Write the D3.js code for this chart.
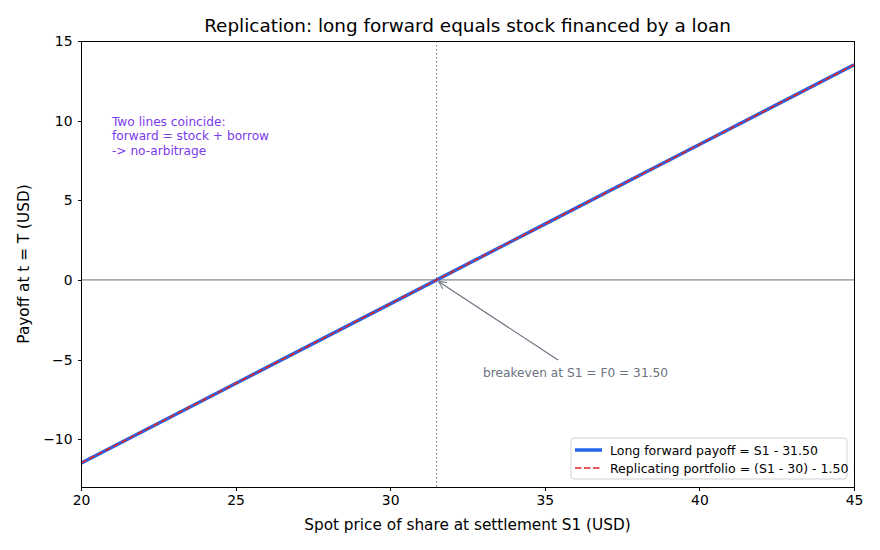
<!DOCTYPE html>
<html>
<head>
<meta charset="utf-8">
<style>
body{ margin:0; background:#fff; }
text{ font-family: "DejaVu Sans", sans-serif; }
.axis path, .axis line{ stroke:#000; stroke-width:1px; shape-rendering:crispEdges; }
.axis text{ font-size:13.9px; fill:#000; }
</style>
</head>
<body>
<script src="https://cdn.jsdelivr.net/npm/d3@7/dist/d3.min.js"></script>
<script>
  var WIDTH = 880;
  var HEIGHT = 550;

  var spotPrices = [20, 25, 30, 35, 40, 45];
  var forwardPayoff = [-11.5, -6.5, -1.5, 3.5, 8.5, 13.5];
  var replicatingPayoff = [-11.5, -6.5, -1.5, 3.5, 8.5, 13.5];
  var xTicks = [20, 25, 30, 35, 40, 45];
  var yTicks = [-10, -5, 0, 5, 10, 15];
  var breakeven = 31.5;
  var noteLines = ["Two lines coincide:", "forward = stock + borrow", "-> no-arbitrage"];
  var legendLabels = ["Long forward payoff = S1 - 31.50", "Replicating portfolio = (S1 - 30) - 1.50"];

  var margin = {left: 81, right: 854, top: 41, bottom: 487};

  var xScale = d3.scaleLinear().domain([20, 45]).range([margin.left, margin.right]);
  var yScale = d3.scaleLinear().domain([-13, 15]).range([margin.bottom, margin.top]);

  var svg = d3.select("body").append("svg")
    .attr("width", WIDTH)
    .attr("height", HEIGHT);

  // reference lines
  svg.append("line")
    .attr("x1", margin.left).attr("x2", margin.right)
    .attr("y1", yScale(0)).attr("y2", yScale(0))
    .attr("stroke", "#6b6b6b").attr("stroke-width", 1);

  svg.append("line")
    .attr("x1", xScale(breakeven)).attr("x2", xScale(breakeven))
    .attr("y1", margin.top).attr("y2", margin.bottom)
    .attr("stroke", "#777").attr("stroke-width", 1)
    .attr("stroke-dasharray", "1.5,2.5");

  var valueline = d3.line()
    .x(function(d){ return xScale(d[0]); })
    .y(function(d){ return yScale(d[1]); });

  var fwdPts = spotPrices.map((d,i) => [d, forwardPayoff[i]]);
  var repPts = spotPrices.map((d,i) => [d, replicatingPayoff[i]]);

  svg.append("clipPath").attr("id", "plotclip")
    .append("rect")
    .attr("x", margin.left).attr("y", margin.top)
    .attr("width", margin.right - margin.left)
    .attr("height", margin.bottom - margin.top);

  var plotArea = svg.append("g").attr("clip-path", "url(#plotclip)");

  plotArea.append("path")
    .attr("d", valueline(fwdPts))
    .attr("fill", "none")
    .attr("stroke", "#2563eb")
    .attr("stroke-width", 3.5);

  plotArea.append("path")
    .attr("d", valueline(repPts))
    .attr("fill", "none")
    .attr("stroke", "#dc2626")
    .attr("stroke-width", 1.6)
    .attr("stroke-dasharray", "6.5,2.5");

  // axes
  svg.append("g")
    .attr("class", "axis")
    .attr("transform", `translate(0,${margin.bottom})`)
    .call(d3.axisBottom(xScale).tickValues(xTicks).tickSize(3.5).tickPadding(5).tickFormat(d3.format("d")));

  svg.append("g")
    .attr("class", "axis")
    .attr("transform", `translate(${margin.left},0)`)
    .call(d3.axisLeft(yScale).tickValues(yTicks).tickSize(3.5).tickPadding(5)
      .tickFormat(d => d < 0 ? "\u2212" + Math.abs(d) : d));

  svg.selectAll(".axis .domain").remove();
  svg.append("rect")
    .attr("x", margin.left).attr("y", margin.top)
    .attr("width", margin.right - margin.left)
    .attr("height", margin.bottom - margin.top)
    .attr("fill", "none").attr("stroke", "#000").attr("stroke-width", 1)
    .attr("shape-rendering", "crispEdges");

  // titles
  svg.append("text")
    .attr("x", (margin.left + margin.right) / 2).attr("y", 32)
    .attr("text-anchor", "middle")
    .style("font-size", "18.4px")
    .text("Replication: long forward equals stock financed by a loan");

  svg.append("text")
    .attr("x", (margin.left + margin.right) / 2).attr("y", 530)
    .attr("text-anchor", "middle")
    .style("font-size", "15.3px")
    .text("Spot price of share at settlement S1 (USD)");

  svg.append("text")
    .attr("transform", `translate(29,${(margin.top + margin.bottom) / 2}) rotate(-90)`)
    .attr("text-anchor", "middle")
    .style("font-size", "15.3px")
    .text("Payoff at t = T (USD)");

  // note
  svg.append("g").selectAll("text")
    .data(noteLines)
    .enter()
    .append("text")
      .attr("x", xScale(21))
      .attr("y", (d,i) => yScale(10) + 5 + i * 14.5)
      .attr("fill", "#7c3aed")
      .style("font-size", "12.2px")
      .text(d => d);

  // breakeven annotation
  svg.append("defs").append("marker")
    .attr("id", "arrowhead")
    .attr("viewBox", "0 0 10 10")
    .attr("refX", 10).attr("refY", 5)
    .attr("markerWidth", 8).attr("markerHeight", 8)
    .attr("markerUnits", "userSpaceOnUse")
    .attr("orient", "auto")
    .append("path")
      .attr("d", "M0,0 L10,5 L0,10")
      .attr("fill", "none")
      .attr("stroke", "#6b7280")
      .attr("stroke-width", 1.3);

  svg.append("line")
    .attr("x1", 558).attr("y1", 360)
    .attr("x2", xScale(breakeven) + 2).attr("y2", yScale(0) + 1.5)
    .attr("stroke", "#6b7280").attr("stroke-width", 1.2)
    .attr("marker-end", "url(#arrowhead)");

  svg.append("text")
    .attr("x", xScale(33)).attr("y", yScale(-6) + 1)
    .attr("fill", "#6b7280")
    .style("font-size", "12.2px")
    .text("breakeven at S1 = F0 = 31.50");

  // legend
  var legend = svg.append("g").attr("transform", "translate(571,438)");
  legend.append("rect")
    .attr("width", 276).attr("height", 41).attr("rx", 3)
    .attr("fill", "#fff").attr("fill-opacity", 0.8)
    .attr("stroke", "#d0d0d0");
  var legItems = legend.selectAll("g.item")
    .data(legendLabels)
    .enter().append("g")
    .attr("class", "item")
    .attr("transform", (d,i) => `translate(0,${12 + i * 18})`);
  legItems.append("line")
    .attr("x1", 4).attr("x2", 31)
    .attr("stroke", (d,i) => i === 0 ? "#2563eb" : "#dc2626")
    .attr("stroke-width", (d,i) => i === 0 ? 3.5 : 1.6)
    .attr("stroke-dasharray", (d,i) => i === 0 ? null : "6.5,2.5");
  legItems.append("text")
    .attr("x", 39).attr("y", 4.5)
    .style("font-size", "12.5px")
    .text(d => d);
</script>
</body>
</html>
